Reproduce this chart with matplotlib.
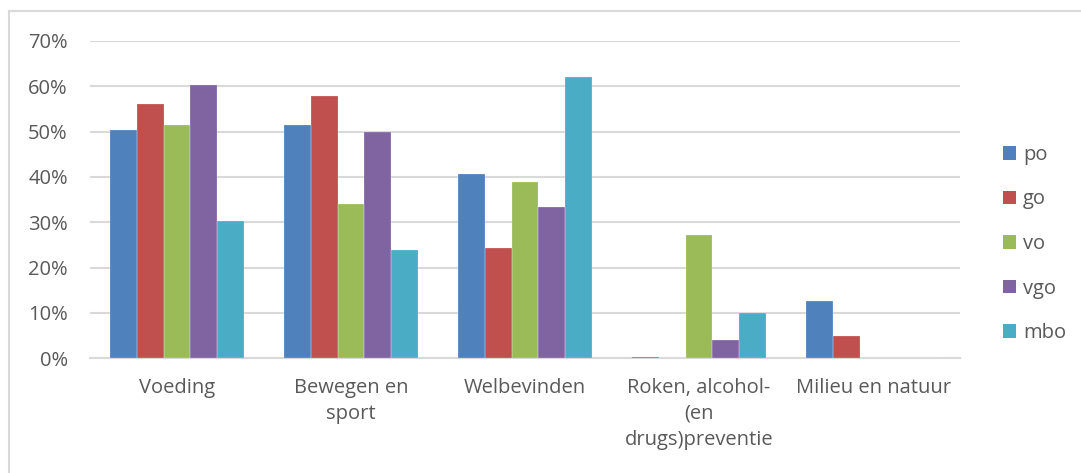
import matplotlib
matplotlib.use("Agg")
import matplotlib.pyplot as plt
import numpy as np
from matplotlib.lines import Line2D

categories = ["Voeding", "Bewegen en\nsport", "Welbevinden",
              "Roken, alcohol-\n(en\ndrugs)preventie", "Milieu en natuur"]
series_names = ["po", "go", "vo", "vgo", "mbo"]
po = [50.4, 51.5, 40.6, 0.3, 12.7]
go = [56.0, 57.8, 24.4, 0.0, 5.0]
vo = [51.4, 34.1, 39.0, 27.1, 0.0]
vgo = [60.4, 49.9, 33.3, 4.0, 0.0]
mbo = [30.3, 24.0, 62.1, 9.9, 0.0]
yticks = [0, 10, 20, 30, 40, 50, 60, 70]

series = [po, go, vo, vgo, mbo]
colors = ["#4F81BD", "#C0504D", "#9BBB59", "#8064A2", "#4BACC6"]

plt.rcParams['font.family'] = ['Open Sans', 'DejaVu Sans']

W, H = 1081, 473
fig = plt.figure(figsize=(W / 100, H / 100), dpi=100)
ax = fig.add_axes([90 / W, 1 - 358.3 / H, 870 / W, (358.3 - 41) / H])

x = np.arange(len(categories))
bw = 0.154
for i, (name, vals, c) in enumerate(zip(series_names, series, colors)):
    ax.bar(x + (i - 2) * bw, vals, width=bw, color=c, label=name,
           edgecolor="none", linewidth=0, zorder=3)
    # thin light separators like the reference bar outlines
    ax.bar(x + (i - 2) * bw, vals, width=bw, fill=False,
           edgecolor="#FFFFFF", linewidth=0.3, alpha=0.5, zorder=4)

fs = 14.5
ax.set_xlim(-0.5, len(categories) - 0.5)
ax.set_ylim(0, 70)
ax.set_yticks(yticks)
ax.set_yticklabels([f"{v}%" for v in yticks])
ax.set_xticks(x)
ax.set_xticklabels(categories, linespacing=1.4)
ax.grid(axis="y", color="#D9D9D9", linewidth=1.5, zorder=0)
for s in ["top", "right", "left"]:
    ax.spines[s].set_visible(False)
ax.spines["bottom"].set_color("#D9D9D9")
ax.spines["bottom"].set_linewidth(1.5)
ax.tick_params(axis="both", length=0, labelsize=fs, colors="#595959")
ax.tick_params(axis="y", pad=16)
ax.tick_params(axis="x", pad=14)
for lbl in ax.get_xticklabels():
    lbl.set_verticalalignment("top")

handles, labels = ax.get_legend_handles_labels()
leg = fig.legend(handles, labels, loc="center left",
                 bbox_to_anchor=(995 / W, 1 - 244 / H),
                 frameon=False, fontsize=fs, labelspacing=1.22,
                 handlelength=0.65, handleheight=0.65, handletextpad=0.35,
                 borderaxespad=0)
for t in leg.get_texts():
    t.set_color("#595959")

# outer chart border (top and left visible)
fig.add_artist(Line2D([8.5 / W, 1.0], [1 - 11.5 / H, 1 - 11.5 / H],
                      transform=fig.transFigure, color="#D9D9D9", linewidth=1.5))
fig.add_artist(Line2D([8.5 / W, 8.5 / W], [0, 1 - 11.5 / H],
                      transform=fig.transFigure, color="#D9D9D9", linewidth=1.5))

fig.savefig("out.png", dpi=100)
